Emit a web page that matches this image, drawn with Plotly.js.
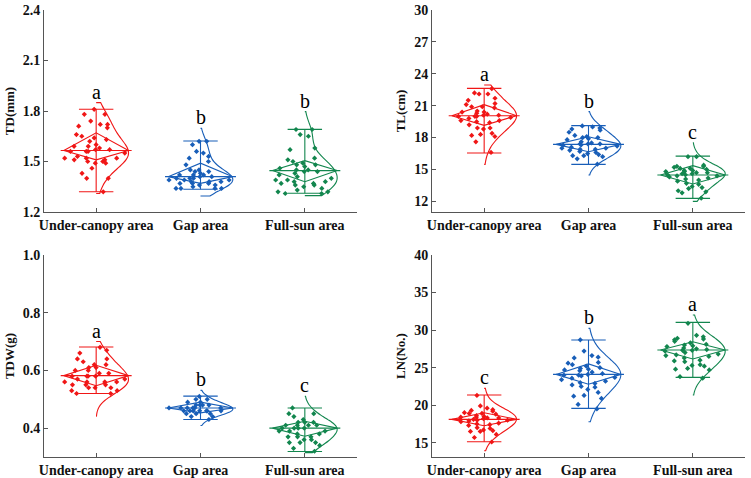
<!DOCTYPE html>
<html>
<head>
<meta charset="utf-8">
<script src="https://cdn.plot.ly/plotly-3.0.1.min.js"></script>
<style>
  html, body { margin: 0; padding: 0; background: #ffffff; }
  #chart { width: 751px; height: 478px; }
</style>
</head>
<body>
<div id="chart"></div>
<script>
// ---- categories and tick labels ----
const categories = ['Under-canopy area', 'Gap area', 'Full-sun area'];

// ---- TD (mm): individual observations per site ----
const tdUnder = [1.81,1.78,1.78,1.74,1.72,1.72,1.71,1.70,1.66,1.65,1.64,1.63,1.62,1.60,1.59,1.59,1.58,1.57,1.57,1.56,1.56,1.56,1.55,1.53,1.52,1.52,1.52,1.51,1.51,1.50,1.50,1.49,1.49,1.46,1.43,1.40,1.40,1.32];
const tdGap   = [1.62,1.62,1.60,1.56,1.55,1.53,1.52,1.50,1.48,1.45,1.45,1.44,1.44,1.43,1.42,1.42,1.42,1.41,1.41,1.40,1.40,1.40,1.39,1.39,1.39,1.38,1.38,1.38,1.37,1.37,1.37,1.36,1.36,1.35,1.34,1.34,1.34,1.34];
const tdFull  = [1.69,1.69,1.66,1.65,1.58,1.57,1.52,1.51,1.50,1.49,1.48,1.48,1.47,1.46,1.45,1.45,1.44,1.44,1.43,1.42,1.41,1.40,1.39,1.39,1.38,1.38,1.37,1.37,1.36,1.36,1.35,1.34,1.33,1.32,1.32,1.31,1.31];
const tdMin = [1.32, 1.335, 1.311];
const tdQ1  = [1.51, 1.37, 1.38];
const tdMed = [1.565, 1.41, 1.446];
const tdQ3  = [1.67, 1.49, 1.505];
const tdMax = [1.81, 1.622, 1.691];
const tdSpanLo = [1.31, 1.295, 1.297];
const tdSpanHi = [1.85, 1.697, 1.796];
const tdLetters = ['a', 'b', 'b'];

// ---- TL (cm) ----
const tlUnder = [22.6,22.2,22.1,22.1,21.7,21.5,21.2,21.1,20.9,20.9,20.8,20.5,20.4,20.4,20.3,20.2,20.1,20.1,20.0,20.0,20.0,19.9,19.8,19.6,19.6,19.5,19.4,19.2,18.9,18.9,18.8,18.4,18.3,18.2,18.1,17.6,16.6];
const tlGap   = [19.1,19.0,18.9,18.8,18.7,18.5,18.2,18.1,18.0,18.0,17.9,17.8,17.6,17.5,17.4,17.4,17.4,17.3,17.3,17.2,17.1,17.0,17.0,16.9,16.9,16.8,16.7,16.6,16.5,16.4,16.3,16.3,16.2,16.0,15.5];
const tlFull  = [16.2,16.2,15.4,15.3,15.3,15.2,15.1,15.1,15.0,14.9,14.9,14.8,14.8,14.7,14.7,14.6,14.6,14.5,14.5,14.4,14.4,14.3,14.2,14.1,14.0,13.9,13.7,13.6,13.4,13.3,13.2,13.0,12.9,12.8,12.3];
const tlMin = [16.55, 15.48, 12.28];
const tlQ1  = [19.15, 16.67, 13.63];
const tlMed = [20.06, 17.36, 14.48];
const tlQ3  = [21.1, 18.08, 15.36];
const tlMax = [22.63, 19.12, 16.26];
const tlSpanLo = [15.48, 14.48, 12.0];
const tlSpanHi = [22.94, 20.44, 17.52];
const tlLetters = ['a', 'b', 'c'];

// ---- TDW (g) ----
const tdwUnder = [0.68,0.67,0.66,0.64,0.64,0.63,0.62,0.62,0.61,0.61,0.60,0.60,0.59,0.59,0.58,0.58,0.58,0.58,0.57,0.57,0.56,0.56,0.56,0.56,0.55,0.55,0.55,0.54,0.54,0.54,0.53,0.53,0.52,0.52];
const tdwGap   = [0.51,0.50,0.50,0.49,0.49,0.48,0.48,0.48,0.48,0.47,0.47,0.47,0.47,0.47,0.47,0.46,0.46,0.46,0.46,0.46,0.46,0.46,0.45,0.45,0.45,0.44,0.44,0.43];
const tdwFull  = [0.47,0.45,0.45,0.44,0.43,0.42,0.42,0.42,0.41,0.41,0.41,0.41,0.40,0.40,0.40,0.40,0.39,0.39,0.39,0.38,0.38,0.37,0.37,0.37,0.36,0.36,0.35,0.35,0.35,0.34,0.33,0.32];
const tdwMin = [0.52, 0.43, 0.319];
const tdwQ1  = [0.547, 0.453, 0.372];
const tdwMed = [0.582, 0.47, 0.40];
const tdwQ3  = [0.618, 0.49, 0.424];
const tdwMax = [0.681, 0.511, 0.47];
const tdwSpanLo = [0.441, 0.409, 0.315];
const tdwSpanHi = [0.70, 0.531, 0.51];
const tdwLetters = ['a', 'b', 'c'];

// ---- LN (No.) ----
const lnUnder = [21.3,19.9,19.6,19.4,19.3,19.2,19.0,18.9,18.9,18.8,18.6,18.5,18.4,18.4,18.3,18.3,18.2,18.1,18.1,18.0,18.0,17.9,17.8,17.6,17.5,17.4,17.3,17.0,16.9,16.7,16.6,16.5,16.5,16.1,15.7,15.1];
const lnGap   = [28.7,27.2,26.6,26.4,26.3,25.7,25.6,25.4,25.2,25.0,24.9,24.8,24.7,24.6,24.4,24.2,24.1,24.0,24.0,23.9,23.7,23.6,23.4,23.2,23.0,22.9,22.7,22.5,22.4,22.1,21.7,21.3,21.2,20.9,20.1,19.5];
const lnFull  = [30.9,29.3,29.1,28.9,28.8,28.7,28.5,28.3,28.1,28.0,27.9,27.8,27.6,27.5,27.4,27.3,27.3,27.2,27.0,26.8,26.7,26.6,26.5,26.3,26.0,25.9,25.8,25.4,25.3,25.2,24.9,24.8,24.7,23.8,23.6];
const lnMin = [15.13, 19.57, 23.70];
const lnQ1  = [17.26, 22.8, 26.15];
const lnMed = [18.11, 24.1, 27.34];
const lnQ3  = [19.0, 25.5, 28.45];
const lnMax = [21.35, 28.68, 31.03];
const lnSpanLo = [13.93, 17.8, 21.35];
const lnSpanHi = [22.24, 30.23, 32.0];
const lnLetters = ['c', 'b', 'a'];

// ---- styling ----
const groupColors = ['rgb(240,22,22)', 'rgb(24,94,184)', 'rgb(18,134,78)'];
const SERIF = '"Liberation Serif", "Times New Roman", serif';
const DIAMOND_HALF = 0.31;   // half width of the diamond box
const MEDIAN_HALF = 0.34;    // half width of the median line
const CAP_HALF = 0.165;      // half width of the whisker caps
const BW_FRACTION = 1 / 8;   // kernel bandwidth relative to the curve span

const panels = [
  { xa: 'x',  ya: 'y',  groups: [tdUnder, tdGap, tdFull],
    min: tdMin, q1: tdQ1, med: tdMed, q3: tdQ3, max: tdMax, lo: tdSpanLo, hi: tdSpanHi, letters: tdLetters },
  { xa: 'x2', ya: 'y2', groups: [tlUnder, tlGap, tlFull],
    min: tlMin, q1: tlQ1, med: tlMed, q3: tlQ3, max: tlMax, lo: tlSpanLo, hi: tlSpanHi, letters: tlLetters },
  { xa: 'x3', ya: 'y3', groups: [tdwUnder, tdwGap, tdwFull],
    min: tdwMin, q1: tdwQ1, med: tdwMed, q3: tdwQ3, max: tdwMax, lo: tdwSpanLo, hi: tdwSpanHi, letters: tdwLetters },
  { xa: 'x4', ya: 'y4', groups: [lnUnder, lnGap, lnFull],
    min: lnMin, q1: lnQ1, med: lnMed, q3: lnQ3, max: lnMax, lo: lnSpanLo, hi: lnSpanHi, letters: lnLetters }
];

const traces = [];
const annotations = [];

panels.forEach(p => {
  p.groups.forEach((vals, g) => {
    const c = g;
    const col = groupColors[g];

    // half violin (kernel density on the right side)
    traces.push({
      type: 'violin', xaxis: p.xa, yaxis: p.ya,
      x0: c, y: vals, side: 'positive',
      width: 0.62, scalemode: 'width',
      bandwidth: (p.hi[g] - p.lo[g]) * BW_FRACTION,
      spanmode: 'manual', span: [p.lo[g], p.hi[g]],
      points: false, box: { visible: false }, meanline: { visible: false },
      line: { color: col, width: 1.1 }, fillcolor: 'rgba(0,0,0,0)',
      hoverinfo: 'skip', showlegend: false
    });

    // whisker with caps, diamond box and median line
    traces.push({
      type: 'scatter', mode: 'lines', xaxis: p.xa, yaxis: p.ya,
      x: [c, c, null,
          c - CAP_HALF, c + CAP_HALF, null,
          c - CAP_HALF, c + CAP_HALF, null,
          c - DIAMOND_HALF, c, c + DIAMOND_HALF, c, c - DIAMOND_HALF, null,
          c - MEDIAN_HALF, c + MEDIAN_HALF],
      y: [p.min[g], p.max[g], null,
          p.max[g], p.max[g], null,
          p.min[g], p.min[g], null,
          p.med[g], p.q3[g], p.med[g], p.q1[g], p.med[g], null,
          p.med[g], p.med[g]],
      line: { color: col, width: 1.1 },
      hoverinfo: 'skip', showlegend: false
    });

    // jittered observations
    traces.push({
      type: 'box', xaxis: p.xa, yaxis: p.ya,
      x0: c, y: vals, width: 0.62,
      boxpoints: 'all', jitter: 1, pointpos: 0,
      fillcolor: 'rgba(0,0,0,0)', line: { width: 0, color: 'rgba(0,0,0,0)' },
      whiskerwidth: 0,
      marker: { symbol: 'diamond', size: 4, color: col },
      hoverinfo: 'y', showlegend: false
    });

    // significance letter above each group
    annotations.push({
      xref: p.xa, yref: p.ya, x: c, y: p.hi[g],
      text: p.letters[g], showarrow: false,
      yanchor: 'bottom', yshift: -2,
      font: { family: SERIF, size: 20, color: '#000' }
    });
  });
});

function xAxis(domain, anchor) {
  return {
    domain: domain, anchor: anchor, range: [-0.5, 2.5],
    tickmode: 'array', tickvals: [0, 1, 2], ticktext: categories,
    ticks: 'inside', ticklen: 4, tickcolor: '#555',
    showline: true, linecolor: '#555', linewidth: 1,
    showgrid: false, zeroline: false,
    tickfont: { family: SERIF, size: 14, weight: 'bold', color: '#111' }
  };
}
function yAxis(domain, anchor, range, tick0, dtick, fmt, title) {
  return {
    domain: domain, anchor: anchor, range: range,
    tick0: tick0, dtick: dtick, tickformat: fmt,
    ticks: 'inside', ticklen: 4, tickcolor: '#555',
    showline: true, linecolor: '#555', linewidth: 1,
    showgrid: false, zeroline: false,
    tickfont: { family: SERIF, size: 14, weight: 'bold', color: '#111' },
    title: { text: title, font: { family: SERIF, size: 13, weight: 'bold', color: '#111' }, standoff: 5 }
  };
}

const W = 751, H = 478;
const colL = [44 / W, 357 / W];
const colR = [432 / W, 745 / W];
const rowT = [1 - 212 / H, 1 - 10 / H];
const rowB = [1 - 457 / H, 1 - 255 / H];

const layout = {
  width: W, height: H,
  margin: { l: 0, r: 0, t: 0, b: 0 },
  paper_bgcolor: '#ffffff', plot_bgcolor: '#ffffff',
  showlegend: false, violinmode: 'overlay', boxmode: 'overlay',
  xaxis:  xAxis(colL, 'y'),
  xaxis2: xAxis(colR, 'y2'),
  xaxis3: xAxis(colL, 'y3'),
  xaxis4: xAxis(colR, 'y4'),
  yaxis:  yAxis(rowT, 'x',  [1.2, 2.4],  1.2, 0.3, '.1f', 'TD(mm)'),
  yaxis2: yAxis(rowT, 'x2', [11, 30],    12,  3,   'd',   'TL(cm)'),
  yaxis3: yAxis(rowB, 'x3', [0.3, 1.0],  0.4, 0.2, '.1f', 'TDW(g)'),
  yaxis4: yAxis(rowB, 'x4', [13.1, 40],  15,  5,   'd',   'LN(No.)'),
  annotations: annotations
};

Plotly.newPlot('chart', traces, layout, { staticPlot: true, displayModeBar: false });
</script>
</body>
</html>
